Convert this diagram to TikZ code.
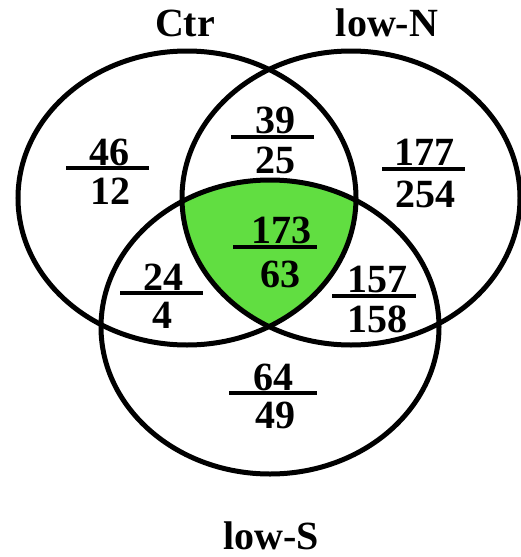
\documentclass[tikz,border=0pt]{standalone}
\usepackage{fontspec}
\setmainfont{Liberation Serif}
\definecolor{vgreen}{RGB}{97,222,65}
\begin{document}
\begin{tikzpicture}[x=1pt,y=-1pt,
  txt/.style={font=\fontsize{40}{44}\selectfont\bfseries, anchor=base, inner sep=0pt},
  bar/.style={line width=4pt},
  ring/.style={line width=5pt}]
\useasboundingbox (0,0) rectangle (520,557);
\coordinate (cC) at (187,198);
\coordinate (cN) at (351,198);
\coordinate (cS) at (270,327);
\begin{scope}
  \clip (cC) ellipse [x radius=169pt, y radius=147pt];
  \clip (cN) ellipse [x radius=169pt, y radius=147pt];
  \fill[vgreen] (cS) ellipse [x radius=169pt, y radius=147pt];
\end{scope}
\draw[ring] (cC) ellipse [x radius=169pt, y radius=147pt];
\draw[ring] (cN) ellipse [x radius=169pt, y radius=147pt];
\draw[ring] (cS) ellipse [x radius=169pt, y radius=147pt];
% set labels
\node[txt] (lC) at (185,36) {Ctr};
\node[txt] (lN) at (387,36) {low-N};
\node[txt] (lS) at (271,549) {low-S};
% fractions
\node[txt] (n1) at (109,165) {46};
\draw[bar] (66,168) -- (149,168);
\node[txt] (d1) at (110,204) {12};
\node[txt] (n2) at (275,133) {39};
\draw[bar] (231,137) -- (314,137);
\node[txt] (d2) at (275,173) {25};
\node[txt] (n3) at (424,165) {177};
\draw[bar] (382,169) -- (465,169);
\node[txt] (d3) at (425,207) {254};
\node[txt] (n4) at (281,243) {173};
\draw[bar] (233,247) -- (317,247);
\node[txt] (d4) at (280,287) {63};
\node[txt] (n5) at (163,290) {24};
\draw[bar] (120,293) -- (203,293);
\node[txt] (d5) at (162,328) {4};
\node[txt] (n6) at (377,292) {157};
\draw[bar] (332,296) -- (416,296);
\node[txt] (d6) at (377,332) {158};
\node[txt] (n7) at (273,390) {64};
\draw[bar] (229,393) -- (317,393);
\node[txt] (d7) at (275,428) {49};
\end{tikzpicture}
\end{document}
